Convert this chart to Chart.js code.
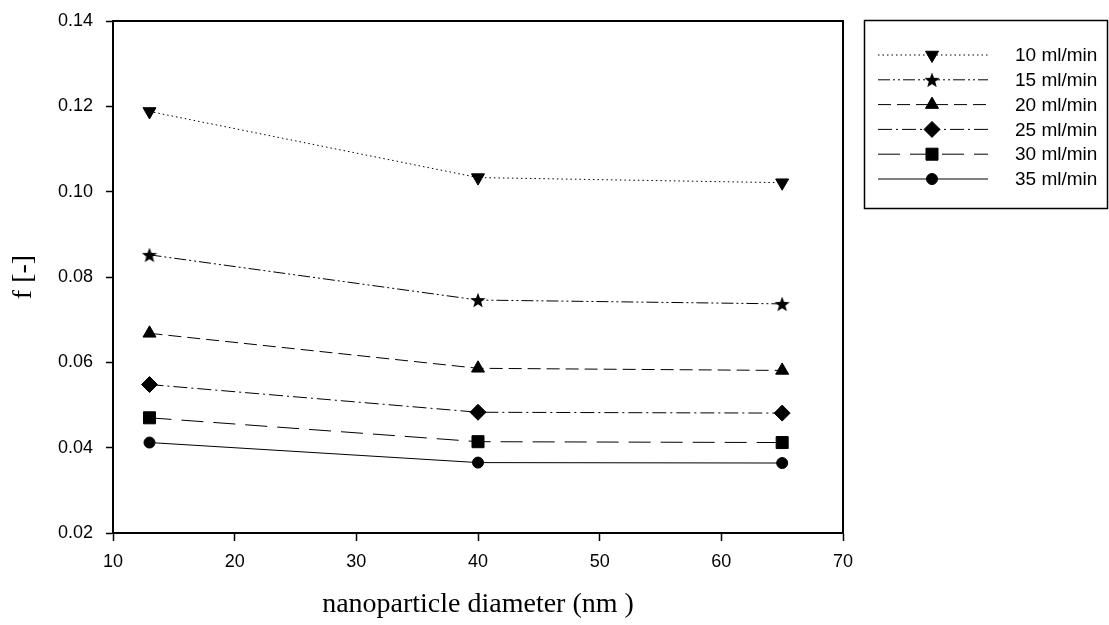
<!DOCTYPE html>
<html>
<head>
<meta charset="utf-8">
<script src="https://cdn.jsdelivr.net/npm/chart.js@4/dist/chart.umd.min.js"></script>
<style>
  html, body { margin: 0; padding: 0; background: #fff; }
  #wrap { width: 1109px; height: 625px; }
</style>
</head>
<body>
<div id="wrap"><canvas id="chart_f"></canvas></div>
<script>
// data
var diameters = [13, 40, 65];
var flowLabels = ['10 ml/min', '15 ml/min', '20 ml/min', '25 ml/min', '30 ml/min', '35 ml/min'];
var f_10 = [0.1188, 0.1033, 0.1021];
var f_15 = [0.0852, 0.0746, 0.0737];
var f_20 = [0.0668, 0.0586, 0.0581];
var f_25 = [0.0548, 0.0483, 0.0481];
var f_30 = [0.0470, 0.0414, 0.0412];
var f_35 = [0.0412, 0.0365, 0.0364];

var sans = '"Liberation Sans", Arial, sans-serif';
var serif = '"Liberation Serif", "Times New Roman", serif';

// filled five point star for the 15 ml/min marker
function makeStar(size) {
	var c = document.createElement('canvas');
	c.width = size;
	c.height = size;
	var g = c.getContext('2d');
	var cx = size / 2, cy = size / 2 + 0.8;
	var R = size / 2, r = R * 0.42;
	g.beginPath();
	for (var i = 0; i < 10; i++) {
		var rad = (i % 2 === 0) ? R : r;
		var a = -Math.PI / 2 + i * Math.PI / 5;
		var px = cx + rad * Math.cos(a), py = cy + rad * Math.sin(a);
		if (i === 0) g.moveTo(px, py); else g.lineTo(px, py);
	}
	g.closePath();
	g.fillStyle = '#000';
	g.fill();
	return c;
}
var star = makeStar(16);

function pts(values) {
	return diameters.map(function (d, i) { return { x: d, y: values[i] }; });
}

function series(label, values, dash, style, rotation, radius) {
	return {
		label: label,
		data: pts(values),
		borderColor: '#000',
		backgroundColor: '#000',
		borderWidth: 1,
		borderDash: dash,
		pointStyle: style,
		rotation: rotation,
		pointRadius: radius,
		pointBorderWidth: 1,
		pointBackgroundColor: '#000',
		pointBorderColor: '#000',
		tension: 0
	};
}

// frame on top and right of the plot area
var framePlugin = {
	id: 'frame',
	afterDraw: function (chart) {
		var a = chart.chartArea, ctx = chart.ctx;
		ctx.save();
		ctx.strokeStyle = '#000';
		ctx.lineWidth = 2;
		ctx.beginPath();
		ctx.moveTo(a.left, a.top);
		ctx.lineTo(a.right, a.top);
		ctx.lineTo(a.right, a.bottom);
		ctx.stroke();
		ctx.restore();
	}
};

// boxed legend with line sample and marker in the middle
var legendPlugin = {
	id: 'boxLegend',
	afterDraw: function (chart) {
		var ctx = chart.ctx;
		var x0 = 864, y0 = 20, w = 243, h = 188;
		ctx.save();
		ctx.strokeStyle = '#000';
		ctx.lineWidth = 1.5;
		ctx.strokeRect(x0 + 0.5, y0 + 0.5, w, h);
		ctx.font = '19px ' + sans;
		ctx.textBaseline = 'middle';
		ctx.fillStyle = '#000';
		chart.data.datasets.forEach(function (ds, i) {
			var y = 55 + i * 24.8;
			ctx.save();
			ctx.strokeStyle = '#000';
			ctx.lineWidth = 1;
			ctx.setLineDash(ds.borderDash || []);
			ctx.beginPath();
			ctx.moveTo(878, y);
			ctx.lineTo(988, y);
			ctx.stroke();
			ctx.restore();
			ctx.fillStyle = '#000';
			ctx.strokeStyle = '#000';
			ctx.lineWidth = 1;
			Chart.helpers.drawPoint(ctx, {
				pointStyle: ds.pointStyle,
				rotation: ds.rotation,
				radius: ds.pointRadius,
				borderWidth: 1
			}, 932, y);
			ctx.fillStyle = '#000';
			ctx.fillText(ds.label, 1015, y + 1);
		});
		ctx.restore();
	}
};

var chart_f = new Chart(
	document.getElementById('chart_f'),
	{
		type: 'line',
		data: {
			datasets: [
				series(flowLabels[0], f_10, [1.5, 3], 'triangle', 180, 7.5),
				series(flowLabels[1], f_15, [12, 3, 2, 3, 2, 3], star, 0, 8),
				series(flowLabels[2], f_20, [13, 6], 'triangle', 0, 7.5),
				series(flowLabels[3], f_25, [14, 4, 2, 4], 'rectRot', 0, 8),
				series(flowLabels[4], f_30, [22, 10], 'rect', 0, 8.5),
				series(flowLabels[5], f_35, [], 'circle', 0, 5.5)
			]
		},
		options: {
			responsive: true,
			maintainAspectRatio: false,
			animation: false,
			layout: { padding: { top: 21, right: 266, left: 0, bottom: 0 } },
			plugins: {
				legend: { display: false },
				tooltip: { enabled: false }
			},
			scales: {
				x: {
					type: 'linear',
					min: 10,
					max: 70,
					ticks: {
						stepSize: 10,
						color: '#000',
						padding: 10,
						font: { family: sans, size: 18 }
					},
					grid: { drawOnChartArea: false, drawTicks: true, tickLength: 8, color: '#000', tickWidth: 1.5 },
					border: { color: '#000', width: 2 },
					title: {
						display: true,
						text: 'nanoparticle diameter (nm )',
						color: '#000',
						font: { family: serif, size: 28 },
						padding: { top: 0, bottom: 4 }
					},
					afterFit: function (scale) {
						scale.height = 92;
						scale.paddingLeft = 0;
						scale.paddingRight = 0;
					}
				},
				y: {
					min: 0.02,
					max: 0.14,
					ticks: {
						stepSize: 0.02,
						color: '#000',
						padding: 13,
						font: { family: sans, size: 18 },
						callback: function (v) { return v.toFixed(2); }
					},
					grid: { drawOnChartArea: false, drawTicks: true, tickLength: 7, color: '#000', tickWidth: 1.5 },
					border: { color: '#000', width: 2 },
					title: {
						display: true,
						text: 'f [-]',
						color: '#000',
						font: { family: serif, size: 28 },
						padding: { top: 7, bottom: 0 }
					},
					afterFit: function (scale) {
						scale.width = 113;
						scale.paddingTop = 0;
						scale.paddingBottom = 0;
					}
				}
			}
		},
		plugins: [framePlugin, legendPlugin]
	}
);
</script>
</body>
</html>
